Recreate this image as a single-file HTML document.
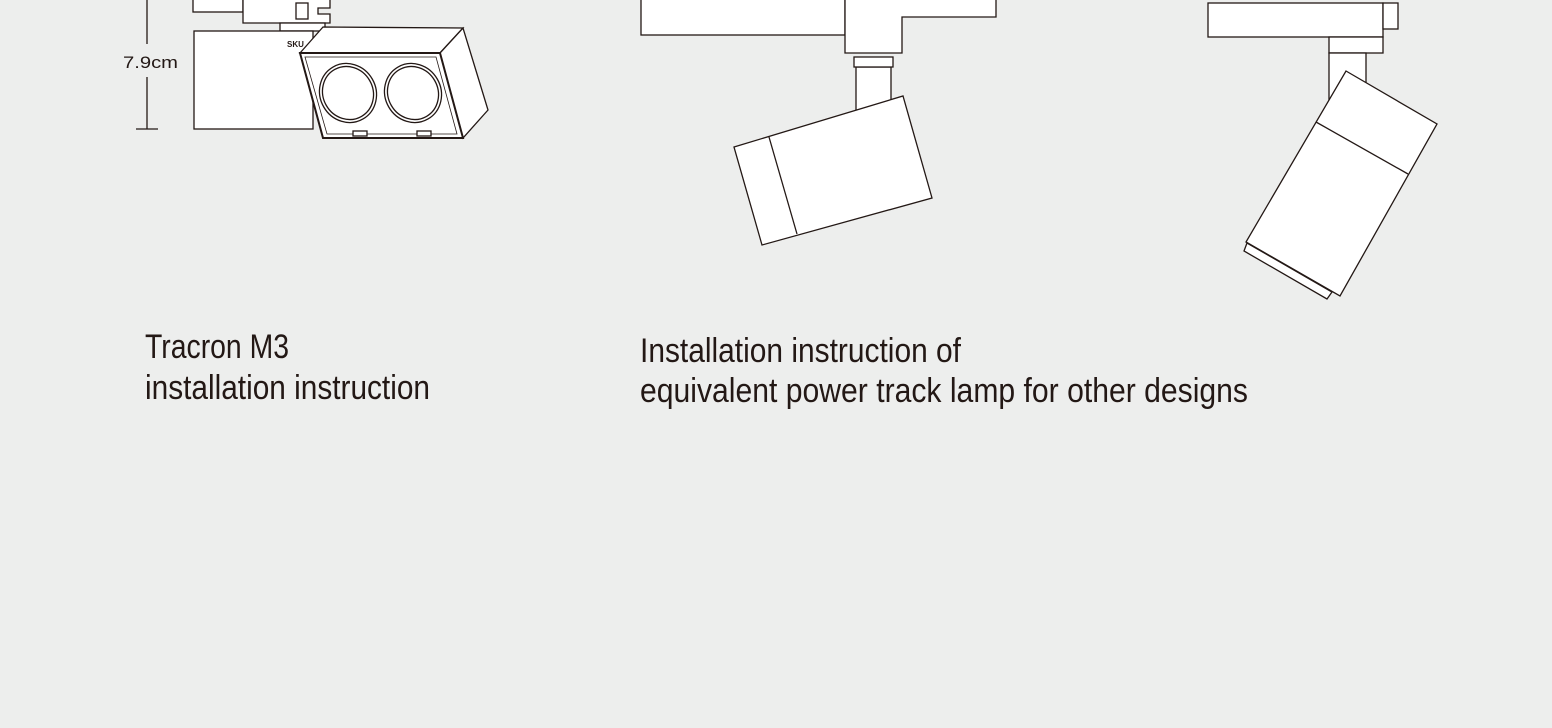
<!DOCTYPE html>
<html><head><meta charset="utf-8"><style>
html,body{margin:0;padding:0;background:#edeeed;}
svg{display:block;}
text{font-family:"Liberation Sans",sans-serif;fill:#231815;}
</style></head><body>
<svg width="1552" height="728" viewBox="0 0 1552 728" xmlns="http://www.w3.org/2000/svg">
<rect width="1552" height="728" fill="#edeeed"/>
<g fill="#fff" stroke="#231815" stroke-width="1.3">
<!-- drawing 1 -->
<rect x="193" y="-1" width="50" height="13"/>
<polygon points="243,-1 330,-1 330,8 318,8 318,14 330,14 330,23 243,23"/>
<rect x="296" y="3" width="12" height="16"/>
<rect x="280" y="23" width="45" height="8"/>
<rect x="194" y="31" width="119" height="98"/>
<polygon points="300,53 323,27 463,28 440,53"/>
<polygon points="440,53 463,28 488,110 463,138"/>
<polygon points="300,53 440,53 463,138 323,138" stroke-width="2"/>
<polygon points="305,57 436,57 457,134 327,134" stroke-width="0.8"/>
<ellipse cx="348" cy="93" rx="30" ry="28" transform="rotate(60 348 93)"/>
<ellipse cx="348" cy="93" rx="27" ry="25" transform="rotate(60 348 93)"/>
<ellipse cx="413" cy="93" rx="30" ry="28" transform="rotate(60 413 93)"/>
<ellipse cx="413" cy="93" rx="27" ry="25" transform="rotate(60 413 93)"/>
<rect x="353" y="131" width="14" height="5"/>
<rect x="417" y="131" width="14" height="5"/>
<!-- drawing 2 -->
<rect x="641" y="-1" width="204" height="36"/>
<polygon points="845,-1 996,-1 996,17 902,17 902,53 845,53"/>
<rect x="856" y="67" width="35" height="45"/>
<rect x="854" y="57" width="39" height="10"/>
<polygon points="734,147 903,96 932,198 762,245"/>
<line x1="769" y1="137" x2="797" y2="234"/>
<!-- drawing 3 -->
<rect x="1208" y="3" width="175" height="34"/>
<rect x="1383" y="3" width="15" height="26"/>
<rect x="1329" y="37" width="54" height="16"/>
<rect x="1329" y="53" width="37" height="50"/>
<polygon points="1247,243 1244,251 1327,299 1332,292"/>
<polygon points="1346,71 1437,124 1340,296 1246,242"/>
<line x1="1316" y1="122" x2="1408" y2="174"/>
</g>
<g stroke="#231815" stroke-width="1.3" fill="none">
<line x1="147" y1="0" x2="147" y2="44"/>
<line x1="147" y1="77" x2="147" y2="129"/>
<line x1="136" y1="129" x2="158" y2="129"/>
</g>
<text x="123" y="68" font-size="17" textLength="55" lengthAdjust="spacingAndGlyphs">7.9cm</text>
<text x="287" y="47" font-size="8" font-weight="bold">SKU</text>
<text x="145" y="358" font-size="34" textLength="144" lengthAdjust="spacingAndGlyphs">Tracron M3</text>
<text x="145" y="399" font-size="34" textLength="285" lengthAdjust="spacingAndGlyphs">installation instruction</text>
<text x="640" y="362" font-size="34" textLength="321" lengthAdjust="spacingAndGlyphs">Installation instruction of</text>
<text x="640" y="402" font-size="34" textLength="608" lengthAdjust="spacingAndGlyphs">equivalent power track lamp for other designs</text>
</svg>
</body></html>
